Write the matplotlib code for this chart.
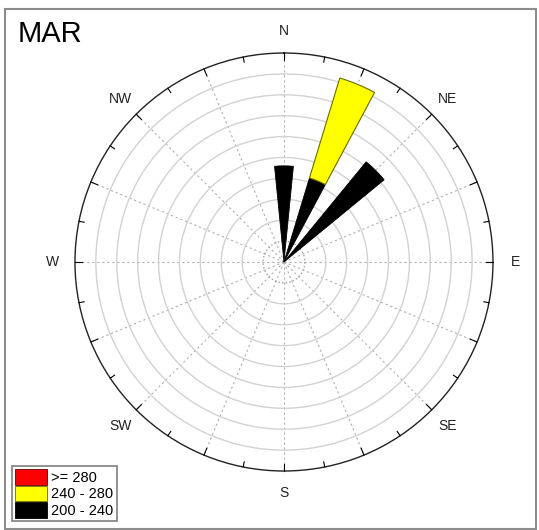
import numpy as np
import matplotlib
matplotlib.use("Agg")
import matplotlib.pyplot as plt
from matplotlib.patches import Patch, Rectangle

plt.rcParams["font.family"] = ["Liberation Sans", "DejaVu Sans"]

# wind rose data for MAR (radial units = rings)
directions = [0.0, 22.5, 45.0]           # degrees from N, clockwise
low_200_240 = [4.6, 4.2, 6.2]            # 200 - 240
mid_240_280 = [0.0, 5.0, 0.0]            # 240 - 280
high_280 = [0.0, 0.0, 0.0]               # >= 280
legend_labels = [">= 280", "240 - 280", "200 - 240"]
compass = ["N", "NE", "E", "SE", "S", "SW", "W", "NW"]

fig = plt.figure(figsize=(5.39, 5.30), dpi=100)
fig.patch.set_facecolor("white")

# outer frame
fig.patches.append(Rectangle((5/539, 1/530), 531/539, 520/530, transform=fig.transFigure,
                             fill=False, edgecolor="#8c8c8c", linewidth=1.5))

ax = fig.add_axes([0.1391, 0.1113, 0.7755, 0.7887], projection="polar")
ax.set_theta_zero_location("N")
ax.set_theta_direction(-1)
ax.set_rlim(0, 10)

theta = np.deg2rad(directions)
width = np.deg2rad(11.25)
low = np.array(low_200_240)
mid = np.array(mid_240_280)
high = np.array(high_280)

m = low > 0
ax.bar(theta[m], low[m], width=width, bottom=0, color="black", edgecolor="black", linewidth=0.6, zorder=3)
m = mid > 0
ax.bar(theta[m], mid[m], width=width, bottom=low[m], color="#ffff00", edgecolor="#6b6b00", linewidth=0.8, zorder=3)
m = high > 0
if m.any():
    ax.bar(theta[m], high[m], width=width, bottom=(low + mid)[m], color="#ff0000", edgecolor="#600000",
           linewidth=0.8, zorder=3)

# grid
ax.set_rticks(np.arange(1, 10))
ax.set_yticklabels([])
ax.yaxis.grid(True, color="#d2d2d2", linewidth=1.0, linestyle="-")
ax.yaxis.get_gridlines()[0].set_linestyle(":")
ax.yaxis.get_gridlines()[0].set_color("#a0a0a0")

angles = np.arange(0, 360, 22.5)
labels = []
for a in angles:
    if a % 45 == 0:
        labels.append(compass[int(a // 45)])
    else:
        labels.append("")
ax.set_thetagrids(angles, labels)
ax.xaxis.grid(True, color="#b0b0b0", linewidth=0.8, linestyle=(0, (2, 2.5)))
ax.tick_params(axis="x", labelsize=10, pad=9, colors="#222222", length=0)

# outer ticks
for a in np.arange(0, 360, 11.25):
    ln = 0.25 if a % 22.5 else 0.35
    ax.plot([np.deg2rad(a)] * 2, [10 - ln, 10], color="black", linewidth=0.8, zorder=4, clip_on=False)

ax.spines["polar"].set_color("#222222")
ax.spines["polar"].set_linewidth(1.0)

fig.text(18/539, 1 - 34/530, "MAR", fontsize=21, va="center", ha="left")

handles = [Patch(facecolor="#ff0000", edgecolor="#600000", linewidth=0.6),
           Patch(facecolor="#ffff00", edgecolor="#6b6b00", linewidth=0.6),
           Patch(facecolor="black", edgecolor="black", linewidth=0.6)]
leg = fig.legend(handles, legend_labels, loc="lower left", bbox_to_anchor=(12/539, 9/530),
                 fancybox=False, framealpha=1, edgecolor="#7f7f7f", fontsize=10.5,
                 handlelength=2.2, handleheight=1.3, handletextpad=0.3, labelspacing=0.05,
                 borderpad=0.2, borderaxespad=0)
leg.get_frame().set_linewidth(1.2)

fig.savefig("out.png", dpi=100)
